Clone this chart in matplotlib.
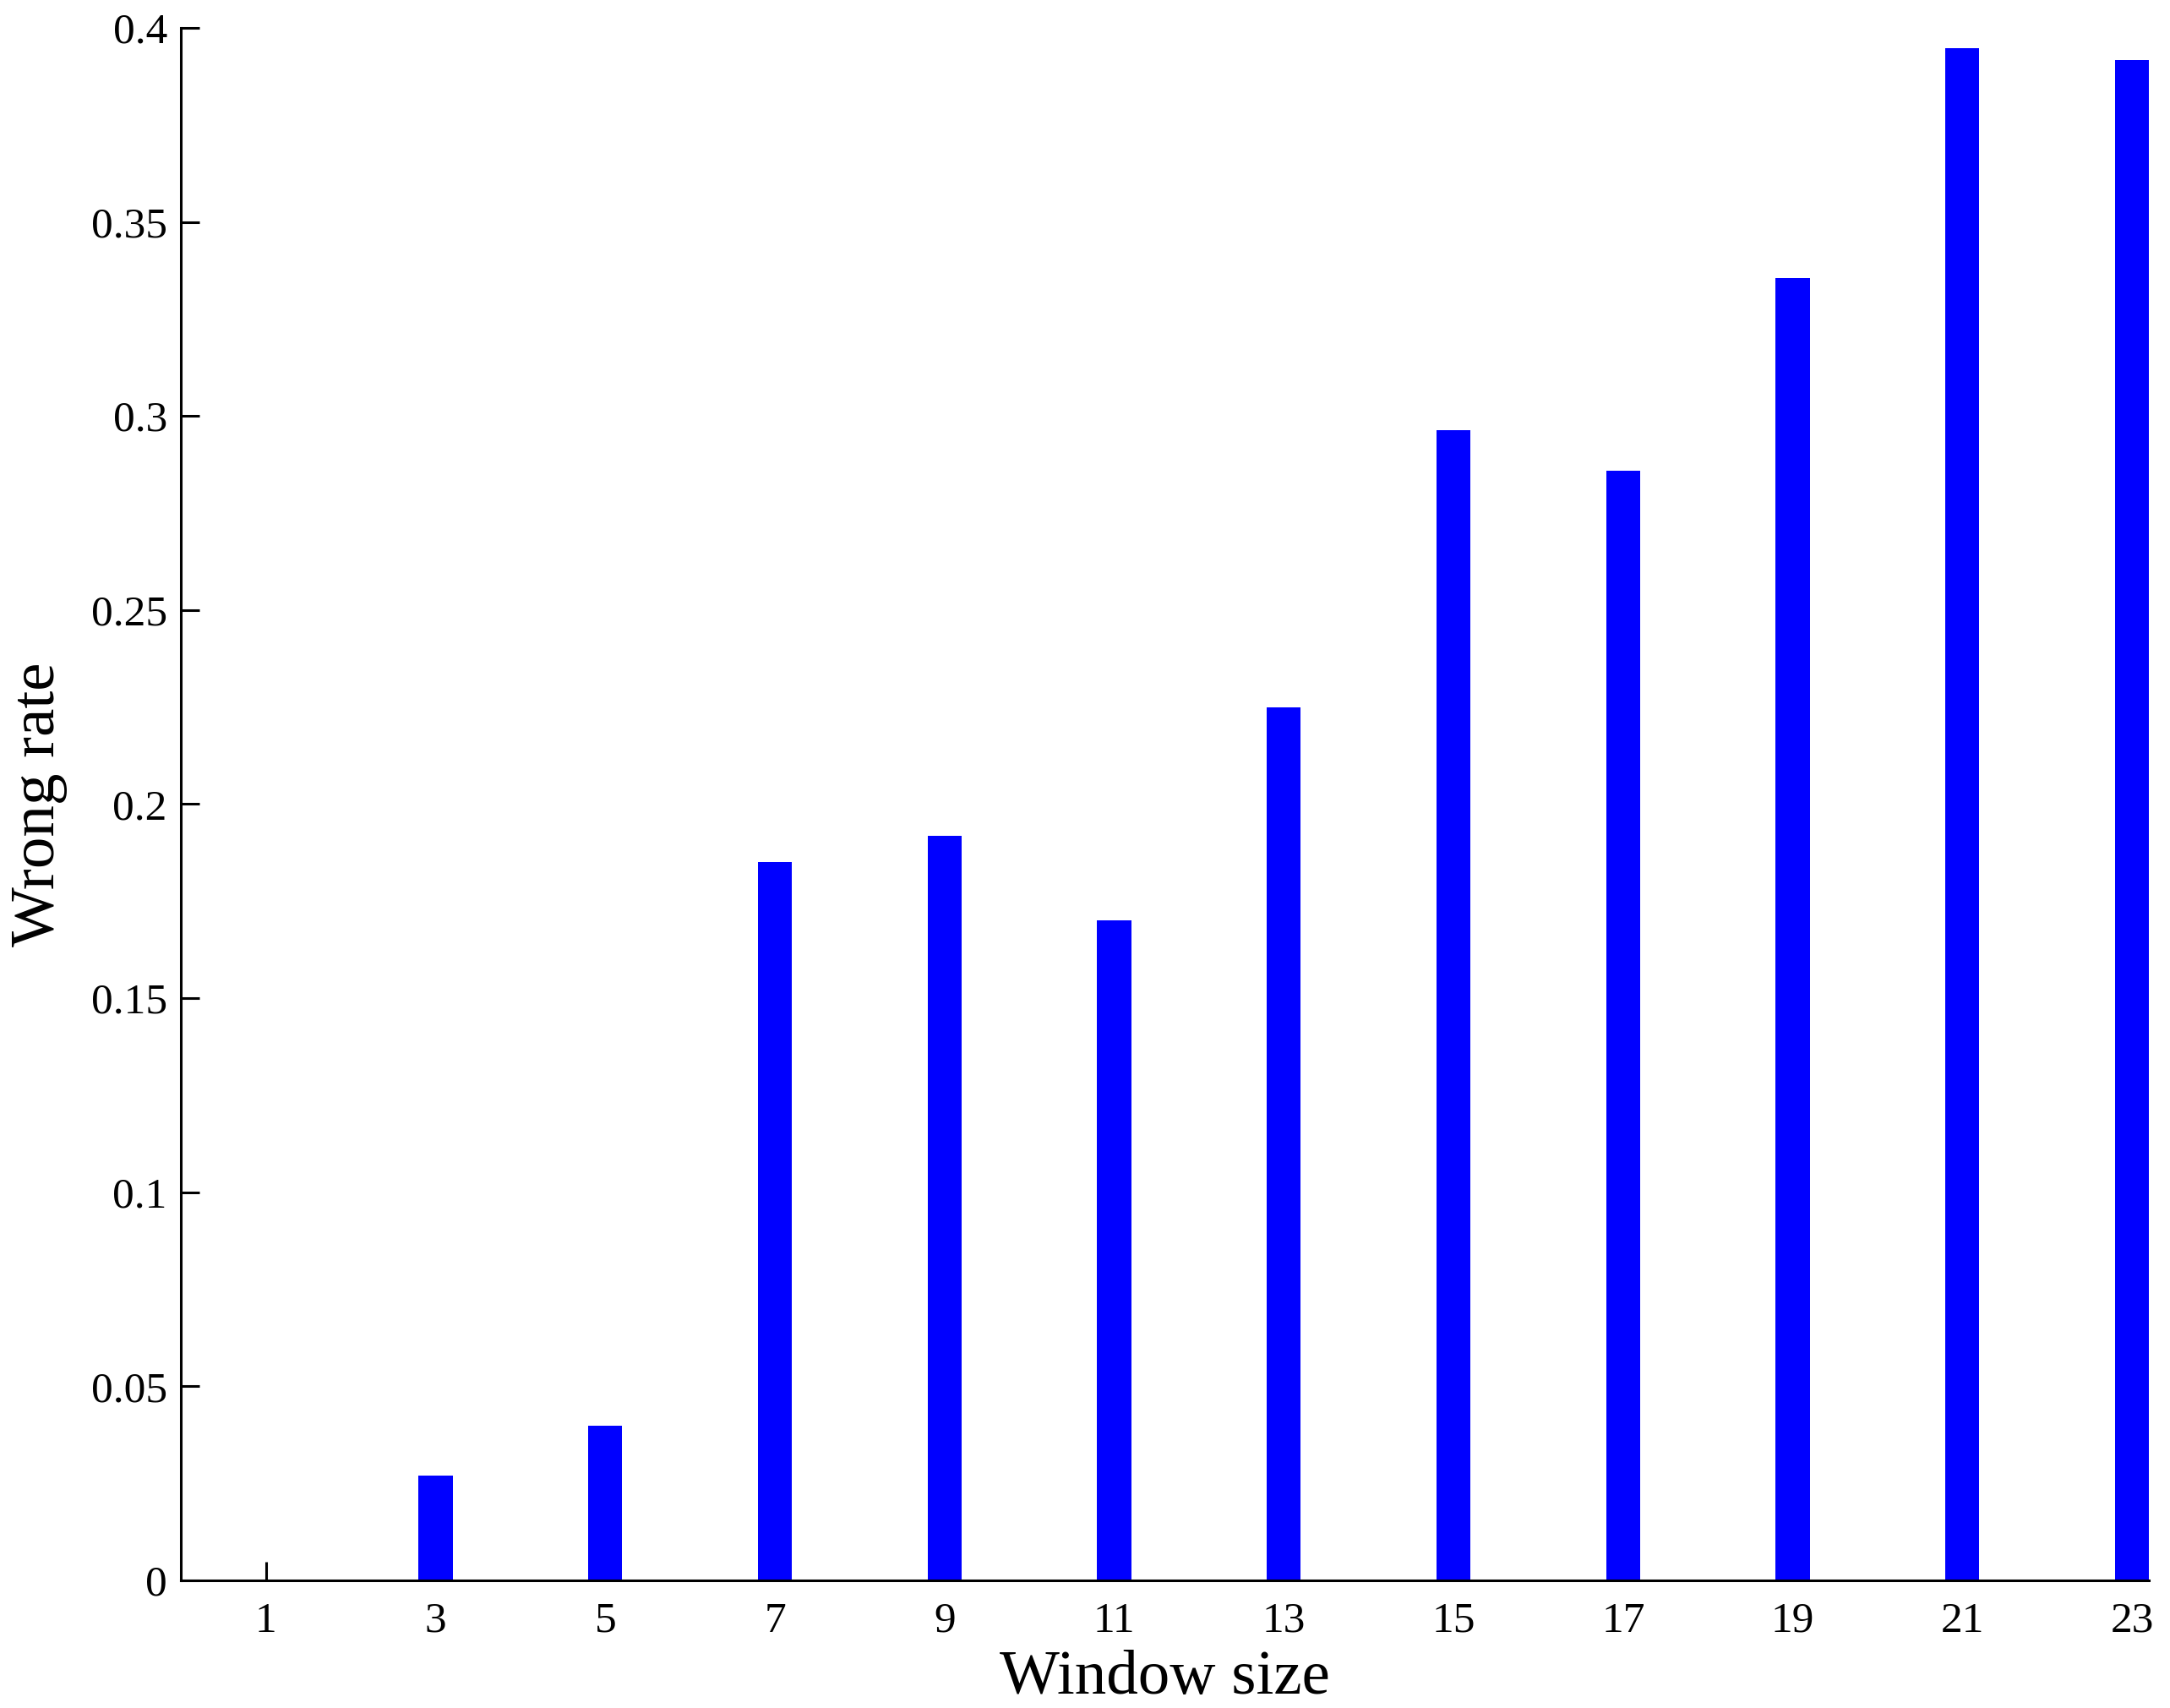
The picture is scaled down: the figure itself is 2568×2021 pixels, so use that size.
import matplotlib
matplotlib.use("Agg")
import matplotlib.pyplot as plt

# Datos
window_sizes = [1, 3, 5, 7, 9, 11, 13, 15, 17, 19, 21, 23]
wrong_rate = [0.0, 0.0271, 0.0399, 0.185, 0.1918, 0.170, 0.225, 0.2963, 0.2859, 0.3355, 0.3947, 0.3918]
y_ticks = [0, 0.05, 0.1, 0.15, 0.2, 0.25, 0.3, 0.35, 0.4]
y_tick_labels = ["0", "0.05", "0.1", "0.15", "0.2", "0.25", "0.3", "0.35", "0.4"]

plt.rcParams["font.family"] = ["Liberation Serif", "DejaVu Serif"]

fig = plt.figure(figsize=(25.68, 20.21), dpi=100)
ax = fig.add_axes([0.0835, 0.0747, 0.9068, 0.909])
ax.set_axisbelow(True)  # las barras tapan las marcas interiores

ax.bar(window_sizes, wrong_rate, width=0.4, color="#0000ff", zorder=1)

ax.set_xlim(0, 23.2)
ax.set_ylim(0, 0.4)
ax.set_xticks(window_sizes)
ax.set_xticklabels([str(w) for w in window_sizes])
ax.set_yticks(y_ticks)
ax.set_yticklabels(y_tick_labels)

for side in ("top", "right"):
    ax.spines[side].set_visible(False)
for side in ("left", "bottom"):
    ax.spines[side].set_linewidth(2.2)
    ax.spines[side].set_zorder(3)

ax.tick_params(direction="in", length=16, width=2.2, labelsize=37)
ax.tick_params(axis="x", pad=18)
ax.tick_params(axis="y", pad=12)

ax.set_xlabel("Window size", fontsize=54, labelpad=8)
ax.set_ylabel("Wrong rate", fontsize=54, labelpad=20)

fig.savefig("out.png", dpi=100)
